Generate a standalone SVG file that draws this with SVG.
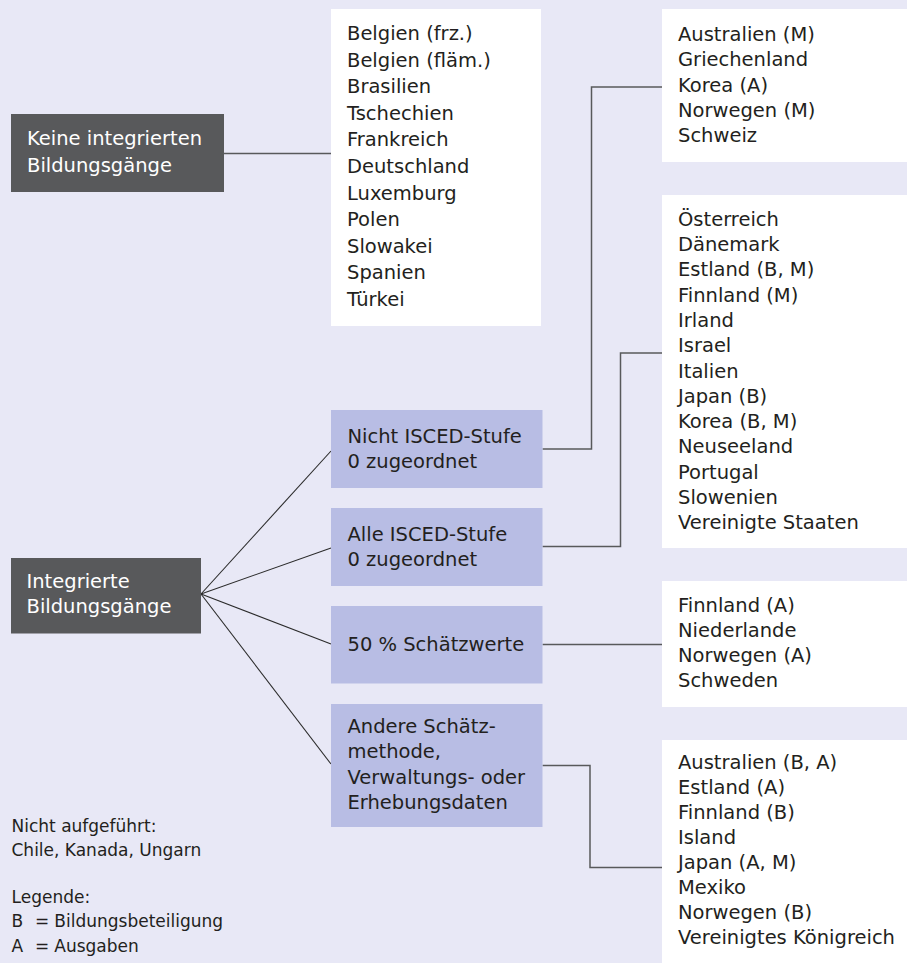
<svg xmlns="http://www.w3.org/2000/svg" width="907" height="963" viewBox="0 0 907 963">
<style>
text{font-family:"DejaVu Sans","Liberation Sans",sans-serif;font-size:19.5px;fill:#231f20}
.dark{fill:#58595b}
.blue{fill:#b8bde4}
.white{fill:#ffffff}
.wt{fill:#ffffff}
.leg{font-size:17px}
.con{fill:none;stroke:#58595b;stroke-width:1.5}
.fan{fill:none;stroke:#2b2b2b;stroke-width:1.1}
</style>
<rect x="0" y="0" width="907" height="963" fill="#e8e8f6"/>
<g id="connectors">
<line class="con" x1="224" y1="153.5" x2="331" y2="153.5"/>
<line class="fan" x1="201" y1="594" x2="331" y2="451"/>
<line class="fan" x1="201" y1="594" x2="331" y2="548"/>
<line class="fan" x1="201" y1="594" x2="331" y2="644"/>
<line class="fan" x1="201" y1="594" x2="331" y2="764"/>
<polyline class="con" points="542.5,449 591.5,449 591.5,87 662,87"/>
<polyline class="con" points="542.5,546.5 620.5,546.5 620.5,353 662,353"/>
<polyline class="con" points="542.5,644.5 662,644.5"/>
<polyline class="con" points="542.5,765.5 590,765.5 590,867.5 662,867.5"/>
</g>
<g id="keine">
<rect class="dark" x="11" y="114" width="213" height="78"/>
<text class="wt" x="27" y="145">Keine integrierten</text>
<text class="wt" x="27" y="171.5">Bildungsgänge</text>
</g>
<g id="liste-keine">
<rect class="white" x="331" y="9" width="210" height="317"/>
<text x="347" y="40">Belgien (frz.)</text>
<text x="347" y="66.6">Belgien (fläm.)</text>
<text x="347" y="93.2">Brasilien</text>
<text x="347" y="119.8">Tschechien</text>
<text x="347" y="146.4">Frankreich</text>
<text x="347" y="173">Deutschland</text>
<text x="347" y="199.6">Luxemburg</text>
<text x="347" y="226.2">Polen</text>
<text x="347" y="252.8">Slowakei</text>
<text x="347" y="279.4">Spanien</text>
<text x="347" y="306">Türkei</text>
</g>
<g id="integrierte">
<rect class="dark" x="11" y="558" width="190" height="75.5"/>
<text class="wt" x="26.5" y="587.5">Integrierte</text>
<text class="wt" x="26.5" y="613.3">Bildungsgänge</text>
</g>
<g id="nicht-isced">
<rect class="blue" x="331" y="410" width="211.5" height="78"/>
<text x="347.5" y="442.7">Nicht ISCED-Stufe</text>
<text x="347.5" y="467.7">0 zugeordnet</text>
</g>
<g id="alle-isced">
<rect class="blue" x="331" y="508" width="211.5" height="78"/>
<text x="347.5" y="540.7">Alle ISCED-Stufe</text>
<text x="347.5" y="565.7">0 zugeordnet</text>
</g>
<g id="schaetzwerte">
<rect class="blue" x="331" y="606" width="211.5" height="77.5"/>
<text x="347.5" y="650.7">50 % Schätzwerte</text>
</g>
<g id="andere">
<rect class="blue" x="331" y="704" width="211.5" height="123"/>
<text x="347.5" y="733">Andere Schätz-</text>
<text x="347.5" y="758.3">methode,</text>
<text x="347.5" y="783.6">Verwaltungs- oder</text>
<text x="347.5" y="809">Erhebungsdaten</text>
</g>
<g id="liste-nicht">
<rect class="white" x="662" y="9" width="245" height="153"/>
<text x="678" y="41">Australien (M)</text>
<text x="678" y="66.3">Griechenland</text>
<text x="678" y="91.6">Korea (A)</text>
<text x="678" y="116.9">Norwegen (M)</text>
<text x="678" y="142.2">Schweiz</text>
</g>
<g id="liste-alle">
<rect class="white" x="662" y="195" width="245" height="353"/>
<text x="678" y="225.7">Österreich</text>
<text x="678" y="251">Dänemark</text>
<text x="678" y="276.3">Estland (B, M)</text>
<text x="678" y="301.6">Finnland (M)</text>
<text x="678" y="326.9">Irland</text>
<text x="678" y="352.2">Israel</text>
<text x="678" y="377.5">Italien</text>
<text x="678" y="402.8">Japan (B)</text>
<text x="678" y="428.1">Korea (B, M)</text>
<text x="678" y="453.4">Neuseeland</text>
<text x="678" y="478.7">Portugal</text>
<text x="678" y="504">Slowenien</text>
<text x="678" y="529.3">Vereinigte Staaten</text>
</g>
<g id="liste-50">
<rect class="white" x="662" y="581" width="245" height="126"/>
<text x="678" y="611.7">Finnland (A)</text>
<text x="678" y="636.7">Niederlande</text>
<text x="678" y="661.7">Norwegen (A)</text>
<text x="678" y="686.7">Schweden</text>
</g>
<g id="liste-andere">
<rect class="white" x="662" y="740" width="245" height="223"/>
<text x="678" y="769">Australien (B, A)</text>
<text x="678" y="794">Estland (A)</text>
<text x="678" y="819">Finnland (B)</text>
<text x="678" y="844">Island</text>
<text x="678" y="869">Japan (A, M)</text>
<text x="678" y="894">Mexiko</text>
<text x="678" y="919">Norwegen (B)</text>
<text x="678" y="944">Vereinigtes Königreich</text>
</g>
<g id="legende">
<text class="leg" x="11.5" y="831.7">Nicht aufgeführt:</text>
<text class="leg" x="11.5" y="855.7">Chile, Kanada, Ungarn</text>
<text class="leg" x="11.5" y="903.3">Legende:</text>
<text class="leg" x="11.5" y="927.3">B<tspan x="35">=</tspan><tspan x="54.3">Bildungsbeteiligung</tspan></text>
<text class="leg" x="11.5" y="951.7">A<tspan x="35">=</tspan><tspan x="54.3">Ausgaben</tspan></text>
</g>
</svg>
